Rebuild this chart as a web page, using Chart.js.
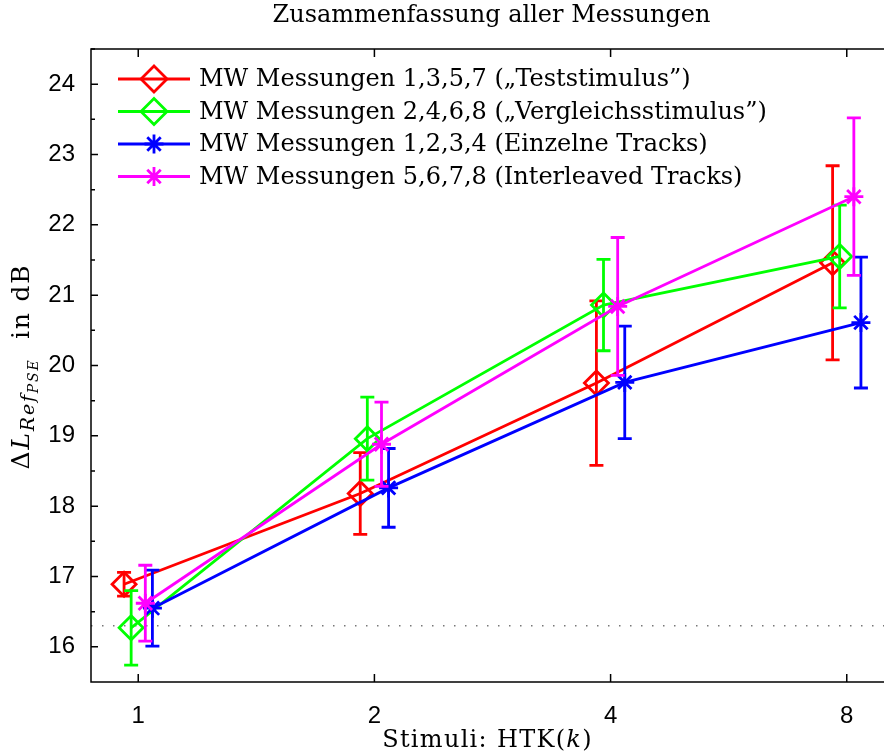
<!DOCTYPE html>
<html>
<head>
<meta charset="utf-8">
<script src="https://cdn.jsdelivr.net/npm/chart.js@4.4.0/dist/chart.umd.min.js"></script>
<style>
  html, body { margin: 0; padding: 0; background: #fff; overflow: hidden; }
  #wrap { position: relative; width: 900px; height: 755px; }
</style>
</head>
<body>
<div id="wrap"><canvas id="chart"></canvas></div>
<script>
// Stimuli, auf der x-Achse gleichabständig aufgetragen
const stimuli = ['1', '2', '4', '8'];
const stimPos = [1, 2, 3, 4];

// Mittelwerte und Standardabweichungen in dB
const mwTest = [16.89, 18.18, 19.75, 21.46];
const sdTest = [0.17, 0.58, 1.17, 1.38];
const mwVergleich = [16.27, 18.96, 20.86, 21.55];
const sdVergleich = [0.53, 0.59, 0.65, 0.73];
const mwEinzeln = [16.55, 18.26, 19.76, 20.61];
const sdEinzeln = [0.54, 0.56, 0.80, 0.93];
const mwInterleaved = [16.62, 18.88, 20.84, 22.40];
const sdInterleaved = [0.54, 0.60, 0.98, 1.12];

const yTicks = [16, 17, 18, 19, 20, 21, 22, 23, 24];
const refLevel = 16.3;

const labels = [
  'MW Messungen 1,3,5,7 (\u201ETeststimulus\u201D)',
  'MW Messungen 2,4,6,8 (\u201EVergleichsstimulus\u201D)',
  'MW Messungen 1,2,3,4 (Einzelne Tracks)',
  'MW Messungen 5,6,7,8 (Interleaved Tracks)'
];

const SERIF = '"DejaVu Serif", serif';
const LW = 2.8;

function serie(mw, sd, dx, color, style, label, order) {
  return {
    label: label,
    data: mw.map((v, i) => ({ x: stimPos[i] + dx, y: v })),
    sd: sd,
    borderColor: color,
    backgroundColor: 'rgba(0,0,0,0)',
    borderWidth: LW,
    pointStyle: style,
    pointRadius: style === 'star' ? 9.5 : 12,
    pointBorderWidth: LW,
    pointBorderColor: color,
    pointBackgroundColor: 'rgba(0,0,0,0)',
    tension: 0,
    order: order
  };
}

// Fehlerbalken je Datensatz, vor der Linie gezeichnet
const errorBars = {
  id: 'errorBars',
  beforeDatasetDraw(chart, args) {
    const ds = chart.data.datasets[args.index];
    if (!ds.sd) return;
    const ctx = chart.ctx, x = chart.scales.x, y = chart.scales.y;
    ctx.save();
    ctx.strokeStyle = ds.borderColor;
    ctx.lineWidth = LW;
    ds.data.forEach((p, i) => {
      const px = x.getPixelForValue(p.x);
      const top = y.getPixelForValue(p.y + ds.sd[i]);
      const bot = y.getPixelForValue(p.y - ds.sd[i]);
      ctx.beginPath();
      ctx.moveTo(px, top); ctx.lineTo(px, bot);
      ctx.moveTo(px - 7, top); ctx.lineTo(px + 7, top);
      ctx.moveTo(px - 7, bot); ctx.lineTo(px + 7, bot);
      ctx.stroke();
    });
    ctx.restore();
  }
};

// Text aus Stücken mit eigener Schrift und Versatz nach unten
function drawPieces(ctx, pieces, cx, baseline, spacing) {
  ctx.letterSpacing = (spacing || 0) + 'px';
  let total = 0;
  pieces.forEach(p => { ctx.font = p.font; p.w = ctx.measureText(p.t).width; total += p.w; });
  let x = cx - total / 2;
  ctx.textAlign = 'left';
  ctx.textBaseline = 'alphabetic';
  pieces.forEach(p => {
    ctx.font = p.font;
    ctx.fillText(p.t, x, baseline + (p.dy || 0));
    x += p.w;
  });
  ctx.letterSpacing = '0px';
}

// Rahmen, Ticks nach innen, Titel, Achsenbeschriftungen und Legende
const frame = {
  id: 'frame',
  afterDraw(chart) {
    const ctx = chart.ctx, a = chart.chartArea;
    const x = chart.scales.x, y = chart.scales.y;
    ctx.save();
    ctx.strokeStyle = '#000';
    ctx.lineWidth = 1.5;
    ctx.strokeRect(a.left, a.top, a.right - a.left, a.bottom - a.top);
    ctx.beginPath();
    stimPos.forEach(v => {
      const px = x.getPixelForValue(v);
      ctx.moveTo(px, a.bottom); ctx.lineTo(px, a.bottom - 8);
      ctx.moveTo(px, a.top); ctx.lineTo(px, a.top + 8);
    });
    yTicks.forEach(v => {
      const py = y.getPixelForValue(v);
      ctx.moveTo(a.left, py); ctx.lineTo(a.left + 7, py);
      ctx.moveTo(a.right, py); ctx.lineTo(a.right - 7, py);
      const pm = y.getPixelForValue(v + 0.5);
      ctx.moveTo(a.left, pm); ctx.lineTo(a.left + 4, pm);
      ctx.moveTo(a.right, pm); ctx.lineTo(a.right - 4, pm);
    });
    ctx.stroke();

    ctx.fillStyle = '#000';
    const cx = (a.left + a.right) / 2;
    drawPieces(ctx, [{ t: 'Zusammenfassung aller Messungen', font: '24px ' + SERIF }], cx - 1, 22);
    drawPieces(ctx, [
      { t: 'Stimuli: HTK(', font: '24px ' + SERIF },
      { t: 'k', font: 'italic 24px ' + SERIF },
      { t: ')', font: '24px ' + SERIF }
    ], cx - 5, 747, 1.3);

    ctx.save();
    ctx.translate(29, (a.top + a.bottom) / 2 + 1);
    ctx.rotate(-Math.PI / 2);
    drawPieces(ctx, [
      { t: '\u0394', font: '25px ' + SERIF },
      { t: 'L', font: 'italic 25px ' + SERIF },
      { t: 'Ref', font: 'italic 19px ' + SERIF, dy: 5 },
      { t: 'PSE', font: 'italic 14px ' + SERIF, dy: 9 },
      { t: '  in dB', font: '25px ' + SERIF }
    ], 0, 0, 1.8);
    ctx.restore();

    // Legende ohne Kasten
    const rows = [79, 111.5, 144, 176.5];
    const sets = chart.data.datasets.filter(d => d.sd);
    sets.forEach((ds, i) => {
      const ry = rows[i];
      ctx.strokeStyle = ds.borderColor;
      ctx.lineWidth = LW;
      ctx.beginPath();
      ctx.moveTo(118, ry); ctx.lineTo(190, ry);
      ctx.stroke();
      ctx.fillStyle = 'rgba(0,0,0,0)';
      Chart.helpers.drawPoint(ctx, {
        pointStyle: ds.pointStyle, radius: ds.pointStyle === 'star' ? 9.5 : 13, rotation: 0, borderWidth: LW
      }, 154, ry);
      ctx.fillStyle = '#000';
      ctx.font = '24px ' + SERIF;
      ctx.textAlign = 'left';
      ctx.textBaseline = 'middle';
      ctx.fillText(ds.label, 199, ry + 1);
    });
    ctx.restore();
  }
};

new Chart(document.getElementById('chart'), {
  type: 'line',
  data: {
    datasets: [
      serie(mwTest, sdTest, -0.06, '#ff0000', 'rectRot', labels[0], 4),
      serie(mwVergleich, sdVergleich, -0.03, '#00ff00', 'rectRot', labels[1], 3),
      serie(mwEinzeln, sdEinzeln, 0.06, '#0000ff', 'star', labels[2], 2),
      serie(mwInterleaved, sdInterleaved, 0.03, '#ff00ff', 'star', labels[3], 1),
      {
        label: 'ref',
        data: [{ x: 0.8, y: refLevel }, { x: 4.2, y: refLevel }],
        borderColor: '#777',
        borderWidth: 1.5,
        borderDash: [1.5, 9.5],
        pointRadius: 0,
        order: 10
      }
    ]
  },
  options: {
    animation: false,
    responsive: true,
    maintainAspectRatio: false,
    layout: { autoPadding: false, padding: { left: 0, top: 49, right: 6, bottom: 0 } },
    plugins: { legend: { display: false }, tooltip: { enabled: false }, title: { display: false } },
    scales: {
      x: {
        type: 'linear', min: 0.8, max: 4.2,
        grid: { display: false }, border: { display: false },
        afterBuildTicks: s => { s.ticks = stimPos.map(v => ({ value: v })); },
        afterFit: s => { s.height = 73; },
        ticks: {
          color: '#000', padding: 12,
          font: { family: '"Liberation Sans", Arial, sans-serif', size: 24 },
          callback: v => stimuli[stimPos.indexOf(v)]
        }
      },
      y: {
        type: 'linear', min: 15.5, max: 24.5,
        grid: { display: false }, border: { display: false },
        afterBuildTicks: s => { s.ticks = yTicks.map(v => ({ value: v })); },
        afterFit: s => { s.width = 91; },
        ticks: {
          color: '#000', padding: 8,
          font: { family: '"Liberation Sans", Arial, sans-serif', size: 24 }
        }
      }
    }
  },
  plugins: [errorBars, frame]
});
</script>
</body>
</html>
